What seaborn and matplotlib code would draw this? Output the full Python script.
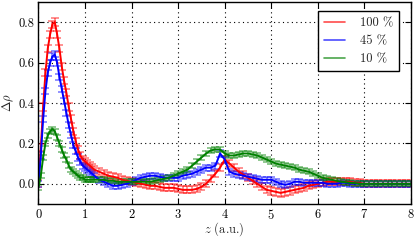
import numpy as np
import pandas as pd
import matplotlib
matplotlib.use("Agg")
import matplotlib.pyplot as plt
import seaborn as sns

# ------------------------------------------------------------
# data
# ------------------------------------------------------------
z = np.concatenate([np.arange(0, 1.2001, 0.05), np.arange(1.3, 8.0001, 0.1)])

red_100 = [
    0.0, 0.18, 0.38, 0.55, 0.67, 0.74, 0.79, 0.8, 0.74, 0.67, 0.58, 0.51, 0.45,
    0.38, 0.32, 0.26, 0.21, 0.17, 0.14, 0.12, 0.11, 0.10, 0.09, 0.08, 0.07,
    0.06, 0.05, 0.04, 0.035, 0.03, 0.02, 0.015, 0.01, 0.005, 0.0, -0.005, -0.01,
    -0.01, -0.015, -0.02, -0.02, -0.02, -0.025, -0.03, -0.03, -0.03, -0.025,
    -0.015, 0.0, 0.025, 0.05, 0.08, 0.12, 0.10, 0.08, 0.06, 0.045, 0.03, 0.015,
    0.0, -0.015, -0.03, -0.035, -0.04, -0.045, -0.04, -0.035, -0.03, -0.025,
    -0.02, -0.01, -0.005, 0.0, 0.005, 0.01, 0.01, 0.01, 0.01, 0.01, 0.01, 0.005,
    0.005, 0.0, 0.0, 0.0, 0.0, 0.0, 0.0, 0.0, 0.0, 0.0, 0.0, 0.0,
]
blue_45 = [
    0.0, 0.14, 0.32, 0.46, 0.55, 0.60, 0.63, 0.64, 0.60, 0.53, 0.47, 0.41, 0.35,
    0.29, 0.24, 0.19, 0.16, 0.13, 0.11, 0.09, 0.08, 0.07, 0.06, 0.05, 0.04,
    0.02, 0.01, 0.0, -0.01, -0.01, -0.005, 0.0, 0.01, 0.02, 0.03, 0.035, 0.04,
    0.04, 0.035, 0.03, 0.03, 0.03, 0.03, 0.04, 0.045, 0.05, 0.06, 0.07, 0.08,
    0.08, 0.09, 0.15, 0.12, 0.06, 0.05, 0.045, 0.04, 0.035, 0.03, 0.025, 0.02,
    0.02, 0.02, 0.01, 0.0, -0.005, 0.0, 0.01, 0.01, 0.005, 0.005, 0.005, 0.005,
    0.005, 0.0, 0.0, 0.0, 0.005, 0.005, 0.0, 0.0, 0.0, 0.0,
    0.0, 0.0, 0.0, 0.0, 0.0, 0.0, 0.0, 0.0, 0.0, 0.0,
]
green_10 = [
    -0.02, 0.04, 0.13, 0.20, 0.24, 0.26, 0.27, 0.26, 0.23, 0.20, 0.17, 0.14,
    0.12, 0.09, 0.07, 0.06, 0.05, 0.04, 0.03, 0.03, 0.02, 0.02, 0.02, 0.02, 0.02,
    0.02, 0.02, 0.015, 0.015, 0.01, 0.01, 0.01, 0.01, 0.01, 0.01, 0.01, 0.01,
    0.015, 0.02, 0.025, 0.03, 0.04, 0.05, 0.06, 0.07, 0.09, 0.11, 0.13, 0.15,
    0.165, 0.17, 0.17, 0.15, 0.14, 0.14, 0.145, 0.15, 0.15, 0.145, 0.14, 0.13,
    0.12, 0.11, 0.10, 0.095, 0.09, 0.085, 0.08, 0.07, 0.065, 0.06, 0.05, 0.04,
    0.03, 0.025, 0.02, 0.015, 0.01, 0.008, 0.005, 0.003, 0.0, 0.0,
    0.0, 0.0, 0.0, 0.0, 0.0, 0.0, 0.0, 0.0, 0.0, 0.0,
]
series_labels = ["100 %", "45 %", "10 %"]
series_errors = [0.018, 0.015, 0.012]
colors = ["#ff0000", "#0000ff", "#008000"]

# ------------------------------------------------------------
# style
# ------------------------------------------------------------
sns.set_style("ticks")
plt.rcParams["font.family"] = ["cmr10", "DejaVu Serif"]
plt.rcParams["mathtext.fontset"] = "cm"
plt.rcParams["axes.unicode_minus"] = False
plt.rcParams["axes.formatter.use_mathtext"] = True

df = pd.DataFrame({
    "z": np.tile(z, 3),
    "drho": np.concatenate([red_100, blue_45, green_10]),
    "serie": np.repeat(series_labels, len(z)),
})

fig = plt.figure(figsize=(4.16, 2.4), dpi=100)
ax = fig.add_axes([0.0925, 0.15, 0.8955, 0.842])

for lab, err, col in zip(series_labels, series_errors, colors):
    sub = df[df["serie"] == lab]
    ax.errorbar(sub["z"], sub["drho"], yerr=err, fmt="none", ecolor=col,
                alpha=0.5, elinewidth=1.2, capsize=3, capthick=1.2)

sns.lineplot(data=df, x="z", y="drho", hue="serie", palette=colors,
             linewidth=1.4, ax=ax, sort=False)

ax.set_xlim(0, 8)
ax.set_ylim(-0.1, 0.9)
ax.set_xticks(range(0, 9))
ax.set_yticks([0.0, 0.2, 0.4, 0.6, 0.8])
ax.set_yticklabels(["0.0", "0.2", "0.4", "0.6", "0.8"])
ax.grid(True, linestyle=(0, (1, 3)), color="black", linewidth=0.8)
ax.tick_params(direction="in", top=True, right=True, length=4, width=0.8,
               labelsize=9, pad=3, colors="black")
for sp in ax.spines.values():
    sp.set_color("black")
    sp.set_linewidth(1.0)

ax.set_xlabel(r"$z$ (a.u.)", fontsize=9)
ax.xaxis.set_label_coords(0.5, -0.082)
ax.set_ylabel(r"$\Delta\rho$", fontsize=9, labelpad=2)

leg = ax.legend(loc="upper right", fontsize=9, frameon=True, fancybox=False,
                edgecolor="black", framealpha=1.0, handlelength=1.7,
                borderpad=0.45, labelspacing=0.5, handletextpad=1.2,
                bbox_to_anchor=(0.985, 0.985))
leg.get_frame().set_linewidth(1.0)
for h in leg.get_lines():
    h.set_alpha(0.7)
    h.set_linewidth(1.2)

plt.savefig("out.png", dpi=100)
